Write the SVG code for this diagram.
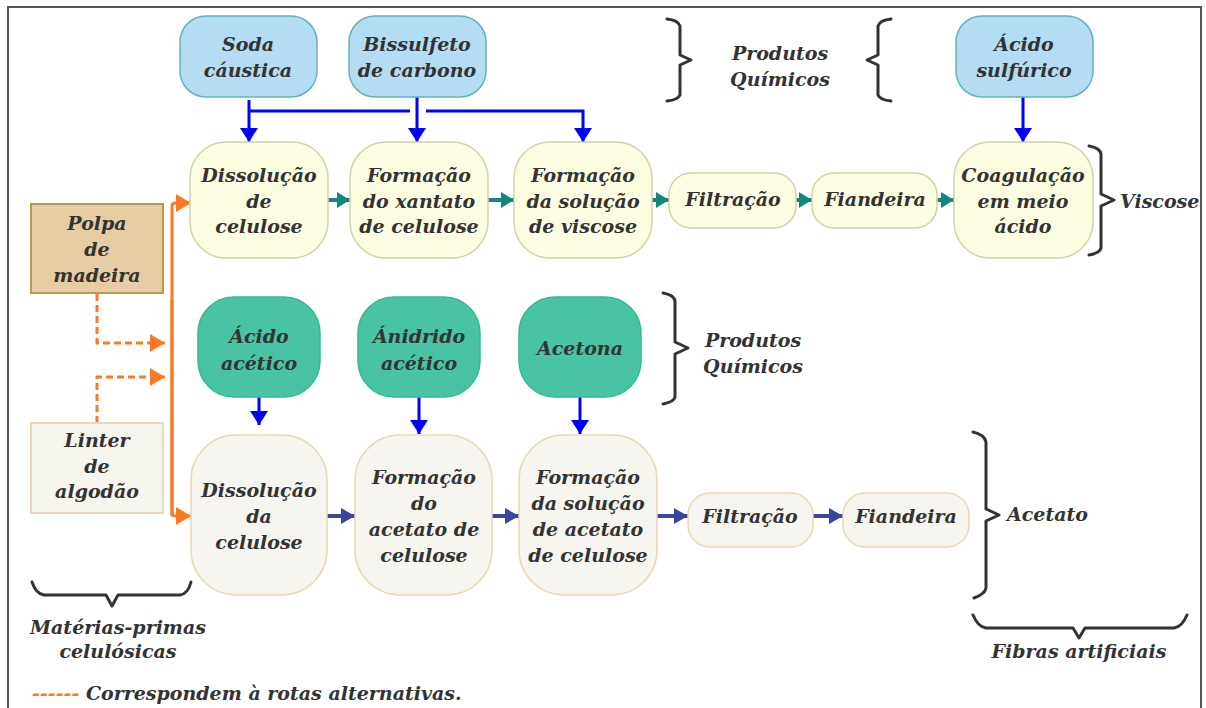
<svg xmlns="http://www.w3.org/2000/svg" width="1206" height="708" viewBox="0 0 1206 708">
<defs>
<style>
text{font-family:"DejaVu Serif","Liberation Serif",serif;font-weight:bold;font-style:italic;font-size:19px;fill:#333;text-anchor:middle}
.lbl{text-anchor:start}
.chem{fill:#b4ddf4;stroke:#62b1c0;stroke-width:1.5}
.vis{fill:#fdfde2;stroke:#d2d2a8;stroke-width:1.5}
.grn{fill:#48c4a4;stroke:#34b994;stroke-width:1.5}
.ace{fill:#f6f5ef;stroke:#ead8b6;stroke-width:1.5}
.brace{fill:none;stroke:#333;stroke-width:3;stroke-linejoin:round;stroke-linecap:round}
.teal{stroke:#12877e;stroke-width:4;fill:none}
.blue{stroke:#0000ff;stroke-width:3;fill:none}
.navy{stroke:#3747a0;stroke-width:4;fill:none}
.org{stroke:#f77b26;stroke-width:3;fill:none}
.dash{stroke:#f77b26;stroke-width:3;fill:none;stroke-dasharray:7 4}
</style>
<marker id="mTeal" markerUnits="userSpaceOnUse" markerWidth="14" markerHeight="16" refX="13" refY="8" orient="auto"><path d="M0 0 L13 8 L0 16 Z" fill="#12877e"/></marker>
<marker id="mBlue" markerUnits="userSpaceOnUse" markerWidth="15" markerHeight="18" refX="14" refY="9" orient="auto"><path d="M0 0 L14 9 L0 18 Z" fill="#0000ff"/></marker>
<marker id="mNavy" markerUnits="userSpaceOnUse" markerWidth="15" markerHeight="16" refX="14" refY="8" orient="auto"><path d="M0 0 L14 8 L0 16 Z" fill="#3747a0"/></marker>
<marker id="mOrg" markerUnits="userSpaceOnUse" markerWidth="16" markerHeight="18" refX="15" refY="9" orient="auto"><path d="M0 0 L15 9 L0 18 Z" fill="#f77b26"/></marker>
</defs>
<rect width="1206" height="708" fill="#fff"/>
<path d="M8 710 V7 H1201 V710" fill="none" stroke="#555" stroke-width="2"/>

<g id="connectors">
<path class="teal" d="M328 200 H350" marker-end="url(#mTeal)"/>
<path class="teal" d="M488 200 H514" marker-end="url(#mTeal)"/>
<path class="teal" d="M652 200 H669" marker-end="url(#mTeal)"/>
<path class="teal" d="M796 200 H812" marker-end="url(#mTeal)"/>
<path class="teal" d="M937 200 H954" marker-end="url(#mTeal)"/>
<path class="blue" d="M249 100 V142" marker-end="url(#mBlue)"/>
<path class="blue" d="M249 111 H410"/>
<path class="blue" d="M417 97 V142" marker-end="url(#mBlue)"/>
<path class="blue" d="M426 111 H583 V142" marker-end="url(#mBlue)"/>
<path class="blue" d="M1023 97 V142" marker-end="url(#mBlue)"/>
<path class="blue" d="M259 389 V425" marker-end="url(#mBlue)"/>
<path class="blue" d="M419 397 V434" marker-end="url(#mBlue)"/>
<path class="blue" d="M580 397 V434" marker-end="url(#mBlue)"/>
<path class="navy" d="M327 516 H355" marker-end="url(#mNavy)"/>
<path class="navy" d="M492 516 H519" marker-end="url(#mNavy)"/>
<path class="navy" d="M657 516 H688" marker-end="url(#mNavy)"/>
<path class="navy" d="M813 516 H843" marker-end="url(#mNavy)"/>
<path class="org" d="M172 516 V206 Q172 203 175 203 H191" marker-end="url(#mOrg)"/>
<path class="org" d="M172 300 V513 Q172 516 175 516 H191" marker-end="url(#mOrg)"/>
<path class="dash" d="M97 294 V343 H165" marker-end="url(#mOrg)"/>
<path class="dash" d="M97 423 V377 H165" marker-end="url(#mOrg)"/>
</g>

<g id="soda"><rect class="chem" x="180" y="16" width="137" height="81" rx="26"/><text x="248" y="51">Soda</text><text x="248" y="77">cáustica</text></g>
<g id="bissulfeto"><rect class="chem" x="349" y="16" width="137" height="81" rx="26"/><text x="417" y="51">Bissulfeto</text><text x="417" y="77">de carbono</text></g>
<g id="acido-sulfurico"><rect class="chem" x="956" y="16" width="137" height="81" rx="26"/><text x="1024" y="51">Ácido</text><text x="1024" y="77">sulfúrico</text></g>

<g id="dissolucao-v"><rect class="vis" x="190" y="142" width="138" height="116" rx="36"/><text x="259" y="182">Dissolução</text><text x="259" y="208">de</text><text x="259" y="233">celulose</text></g>
<g id="xantato"><rect class="vis" x="350" y="142" width="138" height="116" rx="36"/><text x="419" y="182">Formação</text><text x="419" y="208">do xantato</text><text x="419" y="233">de celulose</text></g>
<g id="solucao-viscose"><rect class="vis" x="514" y="142" width="138" height="116" rx="36"/><text x="583" y="182">Formação</text><text x="583" y="208">da solução</text><text x="583" y="233">de viscose</text></g>
<g id="filtracao-v"><rect class="vis" x="669" y="173" width="127" height="55" rx="22"/><text x="733" y="206">Filtração</text></g>
<g id="fiandeira-v"><rect class="vis" x="812" y="173" width="125" height="55" rx="22"/><text x="875" y="206">Fiandeira</text></g>
<g id="coagulacao"><rect class="vis" x="954" y="142" width="139" height="116" rx="36"/><text x="1023" y="182">Coagulação</text><text x="1023" y="208">em meio</text><text x="1023" y="233">ácido</text></g>

<g id="polpa"><rect x="31" y="204" width="132" height="89" fill="#e6cda3" stroke="#b59b50" stroke-width="2"/><text x="97" y="230">Polpa</text><text x="97" y="256">de</text><text x="97" y="282">madeira</text></g>
<g id="linter"><rect x="31" y="423" width="132" height="90" fill="#f6f5ee" stroke="#ead8b6" stroke-width="2"/><text x="97" y="447">Linter</text><text x="97" y="473">de</text><text x="97" y="498">algodão</text></g>

<g id="acido-acetico"><rect class="grn" x="198" y="297" width="122" height="100" rx="36"/><text x="259" y="343">Ácido</text><text x="259" y="370">acético</text></g>
<g id="anidrido"><rect class="grn" x="358" y="297" width="122" height="100" rx="36"/><text x="419" y="343">Ánidrido</text><text x="419" y="370">acético</text></g>
<g id="acetona"><rect class="grn" x="519" y="297" width="122" height="100" rx="36"/><text x="580" y="355">Acetona</text></g>

<g id="dissolucao-a"><rect class="ace" x="191" y="435" width="136" height="160" rx="45"/><text x="259" y="497">Dissolução</text><text x="259" y="523">da</text><text x="259" y="549">celulose</text></g>
<g id="acetato-cel"><rect class="ace" x="355" y="435" width="137" height="160" rx="45"/><text x="424" y="484">Formação</text><text x="424" y="510">do</text><text x="424" y="536">acetato de</text><text x="424" y="562">celulose</text></g>
<g id="solucao-acetato"><rect class="ace" x="519" y="435" width="138" height="160" rx="45"/><text x="588" y="484">Formação</text><text x="588" y="510">da solução</text><text x="588" y="536">de acetato</text><text x="588" y="562">de celulose</text></g>
<g id="filtracao-a"><rect class="ace" x="688" y="493" width="125" height="54" rx="22"/><text x="750" y="523">Filtração</text></g>
<g id="fiandeira-a"><rect class="ace" x="843" y="493" width="126" height="54" rx="22"/><text x="906" y="523">Fiandeira</text></g>

<g id="braces">
<path class="brace" d="M667 19 Q678 20 680 26 V55 L691 60 L680 65 V95 Q678 100 667 101"/>
<path class="brace" d="M891 19 Q880 20 878 26 V55 L867 60 L878 65 V95 Q880 100 891 101"/>
<path class="brace" d="M1089 146 Q1100 148 1101 154 V194 L1114 200 L1101 206 V248 Q1100 253 1089 255"/>
<path class="brace" d="M663 293 Q674 295 675 301 V342 L688 348 L675 354 V397 Q674 402 663 404"/>
<path class="brace" d="M973 432 Q985 435 986 442 V509 L999 515 L986 521 V588 Q985 594 974 598"/>
<path class="brace" d="M32 582 Q36 594 44 595 H106 L112 606 L118 595 H180 Q188 594 191 582"/>
<path class="brace" d="M973 615 Q978 627 986 628 H1073 L1079 638 L1085 628 H1174 Q1182 627 1187 615"/>
</g>

<g id="labels">
<text x="780" y="60">Produtos</text><text x="780" y="86">Químicos</text>
<text x="753" y="347">Produtos</text><text x="753" y="373">Químicos</text>
<text class="lbl" x="1120" y="208">Viscose</text>
<text class="lbl" x="1007" y="521">Acetato</text>
<text x="118" y="634">Matérias-primas</text><text x="118" y="658">celulósicas</text>
<text x="1079" y="658">Fibras artificiais</text>
<text class="lbl" x="32" y="700"><tspan fill="#f77b26">------</tspan> Correspondem à rotas alternativas.</text>
</g>
</svg>
